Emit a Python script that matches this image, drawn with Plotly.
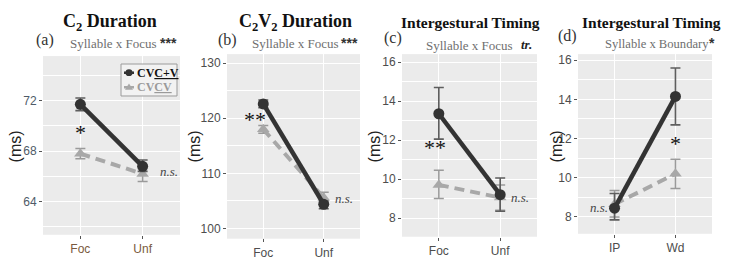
import plotly.graph_objects as go

W, H = 734, 260

# ---------------- data ----------------
cats_focus = ["Foc", "Unf"]
cats_bound = ["IP", "Wd"]

# (a) C2 duration
a_cvcv_plus = [71.7, 66.8]
a_cvcv_plus_hi = [72.2, 67.3]
a_cvcv_plus_lo = [71.2, 66.4]
a_cvcv = [67.8, 66.2]
a_cvcv_hi = [68.2, 66.6]
a_cvcv_lo = [67.4, 65.6]

# (b) C2V2 duration
b_cvcv_plus = [122.6, 104.4]
b_cvcv_plus_hi = [123.3, 105.0]
b_cvcv_plus_lo = [121.9, 103.6]
b_cvcv = [118.0, 105.6]
b_cvcv_hi = [118.7, 106.6]
b_cvcv_lo = [117.3, 104.8]

# (c) intergestural timing, focus
c_cvcv_plus = [13.35, 9.2]
c_cvcv_plus_hi = [14.7, 10.05]
c_cvcv_plus_lo = [12.05, 8.35]
c_cvcv = [9.7, 9.05]
c_cvcv_hi = [10.45, 9.7]
c_cvcv_lo = [9.0, 8.4]

# (d) intergestural timing, boundary
d_cvcv_plus = [8.45, 14.15]
d_cvcv_plus_hi = [9.2, 15.6]
d_cvcv_plus_lo = [7.85, 12.7]
d_cvcv = [8.65, 10.2]
d_cvcv_hi = [9.35, 10.95]
d_cvcv_lo = [8.0, 9.45]

titles = ["C<sub>2</sub> Duration", "C<sub>2</sub>V<sub>2</sub> Duration",
          "Intergestural Timing", "Intergestural Timing"]
panel_tags = ["(a)", "(b)", "(c)", "(d)"]
subtitles = ["Syllable x Focus", "Syllable x Focus", "Syllable x Focus", "Syllable x Boundary"]
sig_marks = ["***", "***", "tr.", "*"]
ytick_vals = [[64, 68, 72], [100, 110, 120, 130], [8, 10, 12, 14, 16], [8, 10, 12, 14, 16]]
y_ranges = [[61.4, 75.5], [98.2, 131.6], [7.05, 16.4], [7.15, 16.3]]
y_minor = [2, 5, 1, 1]

# ---------------- layout helpers ----------------
def px(x):
    return x / W

def py(y):
    return 1 - y / H

# panel boxes in pixels (left, right, top, bottom)
boxes = [(43, 180, 57, 241), (227, 360, 55, 245), (402, 537, 55, 243), (578, 712, 55, 240)]

BLACK = "#333333"
GREY = "#A8A8A8"
BG = "#EBEBEB"

fig = go.Figure()

panels = [
    (cats_focus, a_cvcv_plus, a_cvcv_plus_hi, a_cvcv_plus_lo, a_cvcv, a_cvcv_hi, a_cvcv_lo),
    (cats_focus, b_cvcv_plus, b_cvcv_plus_hi, b_cvcv_plus_lo, b_cvcv, b_cvcv_hi, b_cvcv_lo),
    (cats_focus, c_cvcv_plus, c_cvcv_plus_hi, c_cvcv_plus_lo, c_cvcv, c_cvcv_hi, c_cvcv_lo),
    (cats_bound, d_cvcv_plus, d_cvcv_plus_hi, d_cvcv_plus_lo, d_cvcv, d_cvcv_hi, d_cvcv_lo),
]

for i, (cats, m1, h1, l1, m2, h2, l2) in enumerate(panels):
    n = "" if i == 0 else str(i + 1)
    xa, ya = "x" + n, "y" + n
    xs = list(range(len(cats)))
    # grey series (CVCV)
    fig.add_trace(go.Scatter(
        x=xs, y=m2, xaxis=xa, yaxis=ya, mode="lines+markers", name="CVCV",
        showlegend=False,
        line=dict(color=GREY, width=4, dash="10px,6px"),
        marker=dict(symbol="triangle-up", size=11, color=GREY),
        error_y=dict(type="data", symmetric=False,
                     array=[h - m for h, m in zip(h2, m2)],
                     arrayminus=[m - l for m, l in zip(m2, l2)],
                     color="#9A9A9A", thickness=1.5, width=5),
    ))
    # black series (CVC+V)
    fig.add_trace(go.Scatter(
        x=xs, y=m1, xaxis=xa, yaxis=ya, mode="lines+markers", name="CVC+V",
        showlegend=False,
        line=dict(color=BLACK, width=4.5),
        marker=dict(symbol="circle", size=11, color=BLACK),
        error_y=dict(type="data", symmetric=False,
                     array=[h - m for h, m in zip(h1, m1)],
                     arrayminus=[m - l for m, l in zip(m1, l1)],
                     color="#5E5E5E", thickness=1.6, width=5),
    ))
    l, r, t, b = boxes[i]
    tickcol = "#4E5B68" if i == 0 else "#4D4D4D"
    fig.layout["xaxis" + n] = dict(
        domain=[px(l), px(r)], anchor=ya, range=[-0.6, 1.6],
        tickvals=xs, ticktext=cats, showgrid=True, gridcolor="white", gridwidth=1.3,
        zeroline=False, showline=False, ticks="outside", ticklen=3, tickcolor="#555",
        tickfont=dict(family="Liberation Sans, Arial", size=12,
                      color="#7A5A3E" if i == 0 else "#4D4D4D"),
        fixedrange=True,
    )
    fig.layout["yaxis" + n] = dict(
        domain=[py(b), py(t)], anchor=xa, range=y_ranges[i],
        tickvals=ytick_vals[i], showgrid=True, gridcolor="white", gridwidth=1.3,
        minor=dict(dtick=y_minor[i], tick0=ytick_vals[i][0], showgrid=True,
                   gridcolor="white", gridwidth=0.6),
        zeroline=False, showline=False, ticks="outside", ticklen=3, tickcolor="#555",
        tickfont=dict(family="Liberation Sans, Arial", size=12, color=tickcol),
        fixedrange=True,
    )
    # panel background
    fig.add_shape(type="rect", xref="paper", yref="paper", x0=px(l), x1=px(r),
                  y0=py(b), y1=py(t), fillcolor=BG, line_width=0, layer="below")

# ---------------- titles, tags, subtitles ----------------
title_pos = [(110, 22, 18), (295, 22, 18), (470, 22, 15.5), (651, 22, 15.5)]
tag_pos = [(45, 40), (228, 40), (393, 38), (567, 36)]
sub_left = [(68, 44), (250, 44), (424, 46), (603, 44)]
sub_size = [13, 13, 13, 12.6]
sig_left = [(158, 43), (339, 43), (519, 45), (707, 43)]
ylab_pos = [15, 194, 374, 556]

SERIF = "Liberation Serif, Times New Roman"
for i in range(4):
    tx, ty, tsz = title_pos[i]
    fig.add_annotation(x=px(tx), y=py(ty), xref="paper", yref="paper", text="<b>" + titles[i] + "</b>",
                       showarrow=False, font=dict(family=SERIF, size=tsz, color="#111"),
                       xanchor="center", yanchor="middle")
    gx, gy = tag_pos[i]
    fig.add_annotation(x=px(gx), y=py(gy), xref="paper", yref="paper", text=panel_tags[i],
                       showarrow=False, font=dict(family=SERIF, size=16, color="#333"),
                       xanchor="center", yanchor="middle")
    sx, sy = sub_left[i]
    fig.add_annotation(x=px(sx), y=py(sy), xref="paper", yref="paper",
                       text=subtitles[i], showarrow=False,
                       font=dict(family=SERIF, size=sub_size[i], color="#6E6E6E"),
                       xanchor="left", yanchor="middle")
    gx2, gy2 = sig_left[i]
    if sig_marks[i] == "tr.":
        fig.add_annotation(x=px(gx2), y=py(gy2), xref="paper", yref="paper",
                           text="<b><i>tr.</i></b>", showarrow=False,
                           font=dict(family=SERIF, size=13, color="#222"),
                           xanchor="left", yanchor="middle")
    else:
        fig.add_annotation(x=px(gx2), y=py(gy2), xref="paper", yref="paper",
                           text="<b>" + sig_marks[i] + "</b>", showarrow=False,
                           font=dict(family="Liberation Sans, Arial", size=14, color="#333"),
                           xanchor="left", yanchor="middle")
    fig.add_annotation(x=px(ylab_pos[i]), y=py(150), xref="paper", yref="paper", text="(ms)",
                       textangle=-90, showarrow=False,
                       font=dict(family="Liberation Sans, Arial", size=16, color="#222"),
                       xanchor="center", yanchor="middle")

# ---------------- significance marks ----------------
star_font = dict(family=SERIF, size=22, color="#111")
ns_font = dict(family=SERIF, size=13, color="#444")
notes = [
    ("x", "y", 0.0, 69.5, "*", star_font),
    ("x", "y", 1.42, 66.4, "<i>n.s.</i>", ns_font),
    ("x2", "y2", -0.14, 119.8, "**", star_font),
    ("x2", "y2", 1.33, 105.4, "<i>n.s.</i>", ns_font),
    ("x3", "y3", -0.06, 11.6, "**", star_font),
    ("x3", "y3", 1.33, 9.05, "<i>n.s.</i>", ns_font),
    ("x4", "y4", -0.25, 8.5, "<i>n.s.</i>", ns_font),
    ("x4", "y4", 1.0, 11.75, "*", star_font),
]
for xr, yr, x, y, t, f in notes:
    fig.add_annotation(x=x, y=y, xref=xr, yref=yr, text=t, showarrow=False, font=f,
                       xanchor="center", yanchor="middle")

# ---------------- custom legend in panel (a) ----------------
fig.add_shape(type="rect", xref="paper", yref="paper", x0=px(121), x1=px(177), y0=py(98), y1=py(65),
              fillcolor="#F2F2F2", line=dict(color="#9A9A9A", width=1))
fig.add_shape(type="line", xref="paper", yref="paper", x0=px(124), x1=px(134), y0=py(74), y1=py(74),
              line=dict(color=BLACK, width=2.5))
fig.add_shape(type="circle", xref="paper", yref="paper", x0=px(125.5), x1=px(132.5), y0=py(77.5), y1=py(70.5),
              fillcolor=BLACK, line_width=0)
fig.add_shape(type="line", xref="paper", yref="paper", x0=px(124), x1=px(134), y0=py(89), y1=py(89),
              line=dict(color=GREY, width=2.5, dash="4px,2px"))
fig.add_shape(type="path", xref="paper", yref="paper",
              path=f"M {px(129)} {py(85)} L {px(133)} {py(91.5)} L {px(125)} {py(91.5)} Z",
              fillcolor=GREY, line_width=0)
fig.add_annotation(x=px(135), y=py(74), xref="paper", yref="paper", text="<b>CV<u>C+V</u></b>",
                   showarrow=False, xanchor="left", yanchor="middle",
                   font=dict(family=SERIF, size=12, color="#111"))
fig.add_annotation(x=px(135), y=py(89), xref="paper", yref="paper", text="<b>CV<u>CV</u></b>",
                   showarrow=False, xanchor="left", yanchor="middle",
                   font=dict(family=SERIF, size=12, color="#9A9A9A"))

fig.update_layout(
    width=W, height=H, margin=dict(l=0, r=0, t=0, b=0),
    paper_bgcolor="white", plot_bgcolor=BG, showlegend=False,
)

fig.write_html("out.html", config={"displayModeBar": False},
               post_script="document.body.style.margin='0px';document.body.style.overflow='hidden';")
